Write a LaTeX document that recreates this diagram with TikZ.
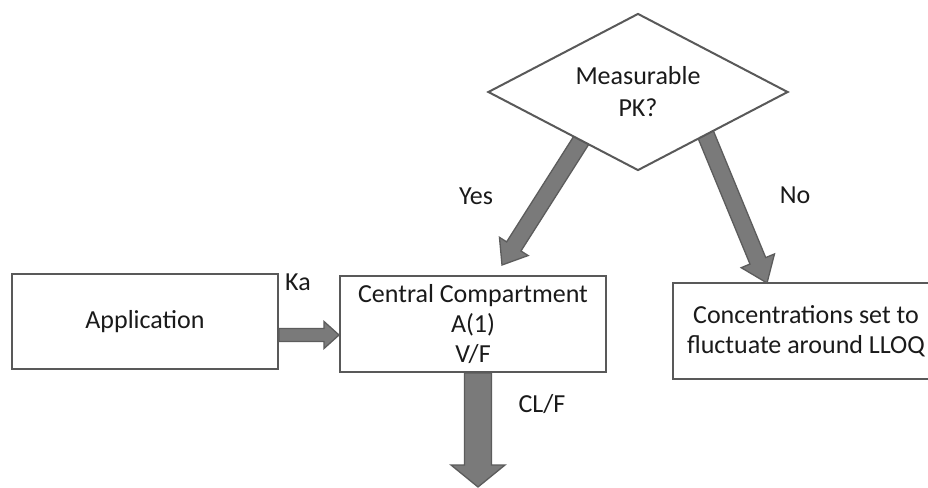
\documentclass[tikz,border=0pt]{standalone}
\usepackage{fontspec}
\setmainfont{Carlito}
\usetikzlibrary{shapes.geometric,calc}
\definecolor{boxline}{HTML}{595959}
\definecolor{arrfill}{HTML}{7A7A7A}
\definecolor{arrline}{HTML}{5C5C5C}
\definecolor{txt}{HTML}{1A1A1A}
\tikzset{
  boxnode/.style={draw=boxline, line width=2pt, fill=white, text=txt, align=center,
    font=\fontsize{26}{30}\selectfont, inner sep=0pt},
  lbl/.style={text=txt, font=\fontsize{26}{30}\selectfont, inner sep=0pt},
  blockarrow/.style={fill=arrfill, draw=arrline, line width=1.3pt, line join=miter},
}
\newcommand{\blockarr}[5]{%
  \coordinate (hb) at ($(#2)!#5!(#1)$);
  \path[blockarrow] ($(#1)!#3!-90:(#2)$) -- ($(hb)!#3!90:(#1)$) -- ($(hb)!#4!90:(#1)$)
    -- (#2) -- ($(hb)!#4!-90:(#1)$) -- ($(hb)!#3!-90:(#1)$) -- ($(#1)!#3!90:(#2)$) -- cycle;
}
\begin{document}
\begin{tikzpicture}[x=1pt,y=-1pt]
\clip (0,0) rectangle (928,487);
\fill[white] (0,0) rectangle (928,487);
% nodes
\node[boxnode, minimum width=266pt, minimum height=95pt] (app) at (145,321.5) {Application};
\node[boxnode, minimum width=266pt, minimum height=96pt] (central) at (473,324) {Central Compartment\\A(1)\\V/F};
\node[boxnode, minimum width=266pt, minimum height=96pt] (llo) at (806,331) {Concentrations set to\\fluctuate around LLOQ};
% arrow end points
\coordinate (yesstart) at (584,136);
\coordinate (yestip) at (502,265);
\coordinate (nostart) at (703,128);
\coordinate (notip) at (767,283);
\coordinate (kastart) at (app.east |- 0,335);
\coordinate (katip) at (central.west |- 0,335);
\coordinate (clstart) at (central.south -| 478,0);
\coordinate (cltip) at (478,487);
\blockarr{yesstart}{yestip}{8.5pt}{17pt}{22pt}
\blockarr{nostart}{notip}{8.5pt}{18pt}{24pt}
\blockarr{kastart}{katip}{6.5pt}{13.5pt}{15pt}
\blockarr{clstart}{cltip}{13.5pt}{27pt}{22pt}
% diamond
\node[boxnode, shape=diamond, minimum width=300pt, minimum height=157pt, aspect=1.9,
  font=\fontsize{26}{32}\selectfont] (pk) at (638,92) {Measurable\\PK?};
% labels
\node[lbl] (yes) at (476,196) {Yes};
\node[lbl] (no) at (795,195) {No};
\node[lbl] (ka) at (298,282) {Ka};
\node[lbl] (cl) at (542,404) {CL/F};
\end{tikzpicture}
\end{document}
